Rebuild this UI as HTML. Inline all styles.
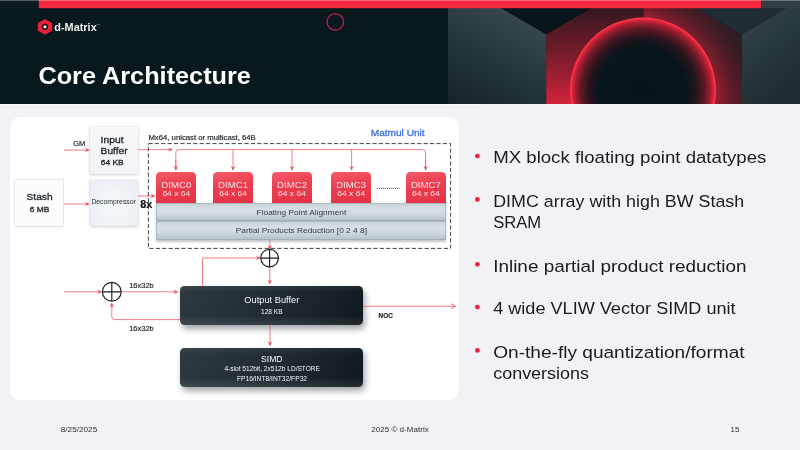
<!DOCTYPE html>
<html lang="en">
<head>
<meta charset="utf-8">
<title>Core Architecture</title>
<style>
  html, body { margin: 0; padding: 0; }
  body { width: 800px; height: 450px; overflow: hidden; background: #f1f2f5; position: relative;
         font-family: "Liberation Sans", sans-serif; }
  .abs { position: absolute; }
  #card { left: 10px; top: 117px; width: 448.5px; height: 283px; background: #ffffff; border-radius: 11px; }
  .lbox { background: linear-gradient(180deg, #f7f8fa 0%, #f2f3f6 100%); box-shadow: 0 1px 3px rgba(60,70,80,0.22), 0 0 0 0.5px rgba(120,130,140,0.10); }
  .dimc { width: 40px; height: 32px; top: 172px; border-radius: 4.2px 4.2px 0 0;
          background: linear-gradient(170deg, #f45c69 0%, #eb3d4f 45%, #e63044 100%); }
  .gbar { left: 156px; width: 290.4px; border-radius: 1.5px;
          background: linear-gradient(180deg, #c4cfd4 0%, #d6dfe3 28%, #d1dbdf 58%, #b4c1c8 100%);
          box-shadow: inset 0 0 0 0.6px rgba(110,130,142,0.55), 0 1.5px 2.5px rgba(40,50,60,0.28); }
  .dbox { left: 180px; width: 183px; border-radius: 4.5px;
          background: linear-gradient(180deg, rgba(255,255,255,0.06) 0%, rgba(255,255,255,0) 16%, rgba(255,255,255,0) 76%, rgba(255,255,255,0.09) 100%), linear-gradient(115deg, #2e3a40 0%, #212c32 50%, #0f181d 100%);
          box-shadow: 2px 4px 6px rgba(20,30,40,0.40); }
  svg { position: absolute; left: 0; top: 0; will-change: transform; }
  text { font-family: "Liberation Sans", sans-serif; }
</style>
</head>
<body>

<!-- ===== header art ===== -->
<svg id="hdr" width="800" height="104" viewBox="0 0 800 104">
  <defs>
    <linearGradient id="gPanelL" x1="0.15" y1="1" x2="0.7" y2="0">
      <stop offset="0" stop-color="#17252a"/>
      <stop offset="0.5" stop-color="#26363b"/>
      <stop offset="1" stop-color="#3a494d"/>
    </linearGradient>
    <linearGradient id="gPanelR" x1="0.1" y1="0" x2="0.6" y2="1">
      <stop offset="0" stop-color="#354449"/>
      <stop offset="0.5" stop-color="#283739"/>
      <stop offset="1" stop-color="#1e2c31"/>
    </linearGradient>
    <linearGradient id="gFaceL" x1="0" y1="0" x2="0" y2="1">
      <stop offset="0" stop-color="#33171f"/>
      <stop offset="0.5" stop-color="#7a1c2b"/>
      <stop offset="1" stop-color="#d2233b"/>
    </linearGradient>
    <radialGradient id="gFaceR" gradientUnits="userSpaceOnUse" cx="643" cy="90.5" r="150">
      <stop offset="0.48" stop-color="#9a1f30"/>
      <stop offset="0.58" stop-color="#6a1b28"/>
      <stop offset="0.7" stop-color="#471822"/>
      <stop offset="0.9" stop-color="#2a181f"/>
    </radialGradient>
    <linearGradient id="gFaceRShade" gradientUnits="userSpaceOnUse" x1="745" y1="6" x2="690" y2="62">
      <stop offset="0" stop-color="#18232a" stop-opacity="0.85"/>
      <stop offset="0.45" stop-color="#1a2026" stop-opacity="0.45"/>
      <stop offset="1" stop-color="#1a2026" stop-opacity="0"/>
    </linearGradient>
    <radialGradient id="gCirc" cx="0.5" cy="0.5" r="0.5">
      <stop offset="0" stop-color="#06141a"/>
      <stop offset="0.6" stop-color="#08151b"/>
      <stop offset="0.74" stop-color="#28141c"/>
      <stop offset="0.85" stop-color="#621826"/>
      <stop offset="0.93" stop-color="#a81e32"/>
      <stop offset="0.972" stop-color="#e2253b"/>
      <stop offset="0.988" stop-color="#ff3349"/>
      <stop offset="1" stop-color="#ff3349"/>
    </radialGradient>
  </defs>
  <rect x="0" y="0" width="800" height="104" fill="#09181d"/>
  <!-- left gray panel -->
  <polygon points="448,0 501,8 546.3,34.5 546.3,104 448,104" fill="url(#gPanelL)"/>
  <rect x="448" y="0" width="60" height="9" fill="#09181d"/>
  <polygon points="448,8 501,8 546.3,34.5 546.3,104 448,104" fill="url(#gPanelL)"/>
  <!-- dark notch -->
  <polygon points="501,8 546.3,34.5 591.5,8" fill="#08161b"/>
  <!-- red hex face -->
  <polygon points="546.3,34.5 591.5,8 643.5,8 643.5,104 546.3,104" fill="url(#gFaceL)"/>
  <polygon points="643.5,8 697,8 742,34.5 742,104 643.5,104" fill="url(#gFaceR)"/>
  <polygon points="643.5,8 697,8 742,34.5 742,104 643.5,104" fill="url(#gFaceRShade)"/>
  <!-- right dark notch + panel -->
  <polygon points="697,8 742,34.5 787,8" fill="#1f2c31"/>
  <polygon points="742,34.5 787,8 800,8 800,104 742,104" fill="url(#gPanelR)"/>
  <!-- glowing circle -->
  <circle cx="643" cy="90.5" r="73" fill="url(#gCirc)"/>
  <!-- top bar -->
  <rect x="0" y="0" width="38.8" height="8.2" fill="#0e1b20"/>
  <rect x="38.8" y="0" width="722.4" height="8.2" fill="#f5293e"/>
  <rect x="761.2" y="0" width="38.8" height="8.2" fill="#313f43"/>
  <rect x="0" y="0" width="800" height="1" fill="#ffffff" opacity="0.30"/>
  <!-- pointer ring -->
  <circle cx="335.3" cy="21.9" r="8.3" fill="#131a27" fill-opacity="0.4" stroke="#b8243d" stroke-width="1.3"/>
  <path d="M332.6,24.6 L337.6,19.4" stroke="#0a1218" stroke-width="1.2" stroke-opacity="0.6" fill="none"/>
  <!-- logo -->
  <polygon points="45,19.6 51.8,23.3 51.8,30.5 45,34.2 38.2,30.5 38.2,23.3" fill="#ee1f38" stroke="#ee1f38" stroke-width="0.8" stroke-linejoin="round"/>
  <circle cx="44.9" cy="26.8" r="3.1" fill="#1a1418"/>
  <circle cx="44.9" cy="26.8" r="1.55" fill="#ffffff"/>
  <text x="54.3" y="30.5" font-size="10.8" font-weight="bold" fill="#eef0f1" textLength="42.4" lengthAdjust="spacingAndGlyphs">d-Matrix</text>
  <text x="96.6" y="25.3" font-size="2.2" fill="#c8cccf">TM</text>
  <text x="38.4" y="84.3" font-size="24.1" font-weight="bold" fill="#ffffff" textLength="212.5" lengthAdjust="spacingAndGlyphs">Core Architecture</text>
</svg>

<div class="abs" style="left:0; top:103.7px; width:800px; height:0.4px; background:#f1f2f5;"></div>
<div class="abs" style="left:0; top:103.7px; width:480px; height:2.2px; background:linear-gradient(180deg,#fafbfc 0%,#f6f7f9 50%,#f1f2f5 100%);"></div>
<!-- ===== diagram card ===== -->
<div id="card" class="abs"></div>

<div class="abs lbox" style="left:89.5px; top:126.8px; width:48px; height:46.8px;"></div>
<div class="abs lbox" style="left:89.5px; top:179.6px; width:48px; height:46.8px; background:radial-gradient(ellipse at 50% 55%, #f6f8fb 0%, #eef1f6 60%, #e9edf3 100%);"></div>
<div class="abs lbox" style="left:15px; top:179.6px; width:48px; height:46.8px; background:#fcfcfd; box-shadow:0 0 0 0.6px rgba(120,130,140,0.26), 0 1px 2px rgba(60,70,80,0.10);"></div>

<div class="abs dimc" style="left:156.3px;"></div>
<div class="abs dimc" style="left:213.1px;"></div>
<div class="abs dimc" style="left:272px;"></div>
<div class="abs dimc" style="left:331.2px;"></div>
<div class="abs dimc" style="left:405.9px;"></div>

<div class="abs gbar" style="top:203.2px; height:17.8px;"></div>
<div class="abs gbar" style="top:221px; height:19.4px;"></div>

<div class="abs dbox" style="top:286.3px; height:38.9px;"></div>
<div class="abs dbox" style="top:347.9px; height:38.7px;"></div>

<!-- ===== lines, arrows and labels ===== -->
<svg id="dia" width="800" height="450" viewBox="0 0 800 450">
  <defs>
    <marker id="ah" viewBox="0 0 10 10" refX="9.2" refY="5" markerWidth="4.8" markerHeight="4.8" orient="auto" markerUnits="userSpaceOnUse">
      <path d="M0,0.4 L10,5 L0,9.6 L3.6,5 Z" fill="#ea4c5f"/>
    </marker>
    <marker id="ao" viewBox="0 0 10 10" refX="9" refY="5" markerWidth="6" markerHeight="6" orient="auto" markerUnits="userSpaceOnUse">
      <path d="M2,0.8 L9,5 L2,9.2" fill="none" stroke="#e8475a" stroke-width="1.4"/>
    </marker>
  </defs>
  <g fill="none" stroke="#ee5d70" stroke-width="0.8">
    <!-- GM -> input buffer -->
    <path d="M63.8,150.1 H89.3" marker-end="url(#ah)"/>
    <!-- input buffer -> bus -->
    <path d="M138,149.6 H172.4" marker-end="url(#ah)"/>
    <!-- bus -->
    <path d="M175.8,170 V152.6 Q175.8,149.6 178.8,149.6 H422.6 Q425.6,149.6 425.6,152.6 V170"/>
    <path d="M175.8,160 V170.2" marker-end="url(#ah)"/>
    <path d="M233,149.6 V170.2" marker-end="url(#ah)"/>
    <path d="M292,149.6 V170.2" marker-end="url(#ah)"/>
    <path d="M351.6,149.6 V170.2" marker-end="url(#ah)"/>
    <path d="M425.6,160 V170.2" marker-end="url(#ah)"/>
    <!-- stash -> decompressor -->
    <path d="M64,204 H89.2" marker-end="url(#ah)"/>
    <!-- decompressor -> dimc -->
    <path d="M138,196 H154.8" marker-end="url(#ah)"/>
    <!-- reduction -> xor -> output buffer -->
    <path d="M269.8,240 V249.4" marker-end="url(#ah)"/>
    <path d="M269.8,267 V284" marker-end="url(#ah)"/>
    <!-- feedback from output buffer to xor -->
    <path d="M202.5,286.4 V258 H260.4" marker-end="url(#ah)"/>
    <!-- left xor -->
    <path d="M64.3,291.8 H101.6" marker-end="url(#ah)"/>
    <path d="M121.6,291.8 H177.8" marker-end="url(#ah)"/>
    <path d="M180,319.6 H114.8 Q111.8,319.6 111.8,316.6 V303.2" marker-end="url(#ah)"/>
    <!-- output buffer -> simd -->
    <path d="M270,325.2 V345.6" marker-end="url(#ah)"/>
    <!-- NOC -->
    <path d="M363,306.3 H455.4" marker-end="url(#ao)"/>
  </g>
  <!-- dashed matmul box -->
  <rect x="148.4" y="143.6" width="302.2" height="104.8" fill="none" stroke="#2a2f33" stroke-width="0.9" stroke-dasharray="4.2 2.2"/>
  <!-- dots between DIMC3 and DIMC7 -->
  <path d="M377.2,188.4 H399.8" stroke="#2a2f33" stroke-width="0.9" stroke-dasharray="1 1" fill="none"/>
  <!-- xor symbols -->
  <g fill="none" stroke="#1a1f23" stroke-width="1.15">
    <circle cx="269.6" cy="258.1" r="8.8"/>
    <path d="M260.8,258.1 H278.4 M269.6,249.3 V266.9"/>
    <circle cx="111.8" cy="291.8" r="9.4"/>
    <path d="M102.4,291.8 H121.2 M111.8,282.4 V301.2"/>
  </g>

  <!-- diagram labels -->
  <g fill="#1d2429" stroke="#1d2429" stroke-width="0.18">
    <text x="73.2" y="145.6" font-size="7" textLength="12.2" lengthAdjust="spacingAndGlyphs">GM</text>
    <text stroke-width="0.32" x="100.6" y="142.5" font-size="9.6" textLength="23" lengthAdjust="spacingAndGlyphs">Input</text>
    <text stroke-width="0.32" x="100.6" y="153.6" font-size="9.6" textLength="27" lengthAdjust="spacingAndGlyphs">Buffer</text>
    <text stroke-width="0.32" x="100.8" y="164.6" font-size="7.8" textLength="22.8" lengthAdjust="spacingAndGlyphs">64 KB</text>
    <text stroke-width="0.32" x="26.6" y="200.4" font-size="9.6" textLength="26" lengthAdjust="spacingAndGlyphs">Stash</text>
    <text stroke-width="0.32" x="29.8" y="211.7" font-size="7.8" textLength="19.6" lengthAdjust="spacingAndGlyphs">6 MB</text>
    <text x="91.4" y="203.8" font-size="6.4" stroke="none" fill="#262e33" textLength="44.4" lengthAdjust="spacingAndGlyphs">Decompressor</text>
    <text x="140.2" y="208.2" font-size="10" font-weight="bold" fill="#0c0f11" textLength="12" lengthAdjust="spacingAndGlyphs">8x</text>
    <text x="148.4" y="140" font-size="6.8" textLength="107.4" lengthAdjust="spacingAndGlyphs">Mx64, unicast or multicast, 64B</text>
    <text x="256.6" y="214.5" font-size="7.9" fill="#343d43" stroke="none" textLength="89.6" lengthAdjust="spacingAndGlyphs">Floating Point Alignment</text>
    <text x="235.8" y="233.1" font-size="7.9" fill="#343d43" stroke="none" textLength="131.2" lengthAdjust="spacingAndGlyphs">Partial Products Reduction [0 2 4 8]</text>
    <text x="129.2" y="287.6" font-size="6.8" textLength="24.6" lengthAdjust="spacingAndGlyphs">16x32b</text>
    <text x="129.2" y="330.6" font-size="6.8" textLength="24.6" lengthAdjust="spacingAndGlyphs">16x32b</text>
    <text x="378.6" y="317.8" font-size="6.4" font-weight="bold" textLength="14.2" lengthAdjust="spacingAndGlyphs">NOC</text>
  </g>
  <text x="370.8" y="136.4" font-size="9.5" fill="#3d6fe3" stroke="#3d6fe3" stroke-width="0.3" textLength="53.8" lengthAdjust="spacingAndGlyphs">Matmul Unit</text>

  <g fill="#fce3e6" text-anchor="middle">
    <text x="176.3" y="187.6" font-size="9.3" textLength="30" lengthAdjust="spacingAndGlyphs">DIMC0</text>
    <text x="233.1" y="187.6" font-size="9.3" textLength="30" lengthAdjust="spacingAndGlyphs">DIMC1</text>
    <text x="292" y="187.6" font-size="9.3" textLength="30" lengthAdjust="spacingAndGlyphs">DIMC2</text>
    <text x="351.2" y="187.6" font-size="9.3" textLength="30" lengthAdjust="spacingAndGlyphs">DIMC3</text>
    <text x="425.9" y="187.6" font-size="9.3" textLength="30" lengthAdjust="spacingAndGlyphs">DIMC7</text>
    <text x="176.3" y="196.4" font-size="8" textLength="27.8" lengthAdjust="spacingAndGlyphs">64 x 64</text>
    <text x="233.1" y="196.4" font-size="8" textLength="27.8" lengthAdjust="spacingAndGlyphs">64 x 64</text>
    <text x="292" y="196.4" font-size="8" textLength="27.8" lengthAdjust="spacingAndGlyphs">64 x 64</text>
    <text x="351.2" y="196.4" font-size="8" textLength="27.8" lengthAdjust="spacingAndGlyphs">64 x 64</text>
    <text x="425.9" y="196.4" font-size="8" textLength="27.8" lengthAdjust="spacingAndGlyphs">64 x 64</text>
  </g>

  <g fill="#f4f6f7" text-anchor="middle">
    <text x="271.8" y="302.9" font-size="9.4" textLength="55" lengthAdjust="spacingAndGlyphs">Output Buffer</text>
    <text x="271.8" y="314.3" font-size="6.8" textLength="21.4" lengthAdjust="spacingAndGlyphs">128 KB</text>
    <text x="271.8" y="362.1" font-size="9.4" textLength="21.6" lengthAdjust="spacingAndGlyphs">SIMD</text>
    <text x="272.2" y="371.3" font-size="6.8" textLength="95.6" lengthAdjust="spacingAndGlyphs">4-slot 512bit, 2x512b LD/STORE</text>
    <text x="272" y="381.3" font-size="6.8" textLength="70.2" lengthAdjust="spacingAndGlyphs">FP16/INT8/INT32/FP32</text>
  </g>

  <!-- bullets -->
  <g fill="#ea2440">
    <circle cx="477.4" cy="156.1" r="2.4"/>
    <circle cx="477.4" cy="199.4" r="2.4"/>
    <circle cx="477.4" cy="264.3" r="2.4"/>
    <circle cx="477.4" cy="307.1" r="2.4"/>
    <circle cx="477.4" cy="350.4" r="2.4"/>
  </g>
  <g fill="#1b1b1d" font-size="16.8">
    <text x="493.2" y="163.4" textLength="273.2" lengthAdjust="spacingAndGlyphs">MX block floating point datatypes</text>
    <text x="493.2" y="207" textLength="251" lengthAdjust="spacingAndGlyphs">DIMC array with high BW Stash</text>
    <text x="493.2" y="228.4" textLength="48" lengthAdjust="spacingAndGlyphs">SRAM</text>
    <text x="493.2" y="271.6" textLength="253.4" lengthAdjust="spacingAndGlyphs">Inline partial product reduction</text>
    <text x="493.2" y="314.4" textLength="242.4" lengthAdjust="spacingAndGlyphs">4 wide VLIW Vector SIMD unit</text>
    <text x="493.2" y="357.6" textLength="251.4" lengthAdjust="spacingAndGlyphs">On-the-fly quantization/format</text>
    <text x="493.2" y="379.4" textLength="95.8" lengthAdjust="spacingAndGlyphs">conversions</text>
  </g>

  <!-- footer -->
  <g fill="#2b2d30" font-size="8.1">
    <text x="60.8" y="431.9" textLength="36.4" lengthAdjust="spacingAndGlyphs">8/25/2025</text>
    <text x="371.3" y="431.9" textLength="57.4" lengthAdjust="spacingAndGlyphs">2025 © d-Matrix</text>
    <text x="730.6" y="431.9" textLength="8.6" lengthAdjust="spacingAndGlyphs">15</text>
  </g>
</svg>

</body>
</html>
